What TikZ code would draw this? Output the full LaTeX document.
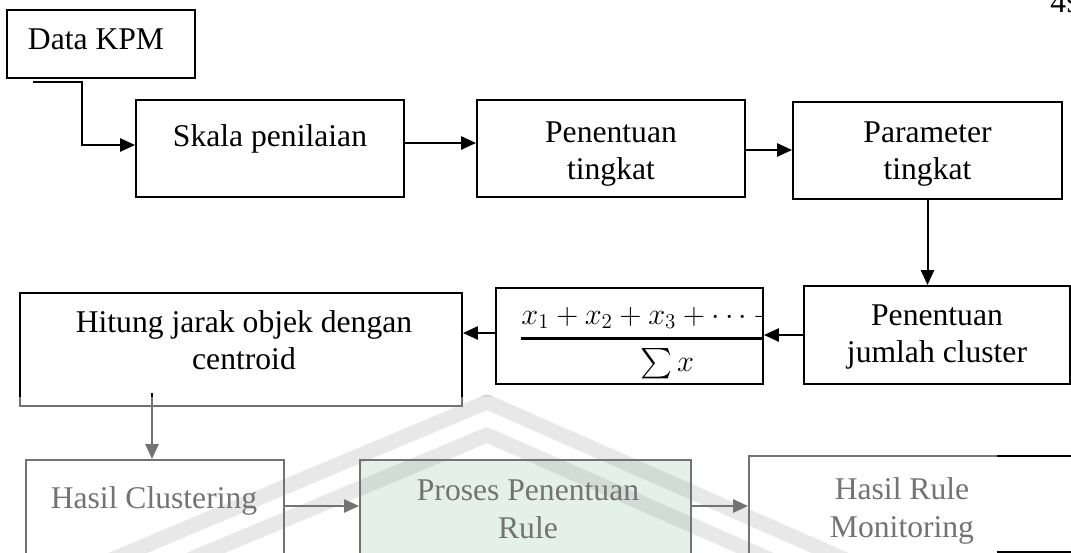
\documentclass[tikz,border=0pt]{standalone}
\usepackage{amsmath}
\usepackage{fontspec}
\setmainfont{Liberation Serif}
\usetikzlibrary{arrows.meta}
\definecolor{wmgreen}{RGB}{205,231,216}
\begin{document}
\begin{tikzpicture}[x=0.02cm,y=-0.02cm,
  box/.style={draw=black, line width=1.15pt, rectangle, inner sep=0pt},
  txt/.style={font=\fontsize{18}{21.5}\selectfont, align=center, inner sep=0pt, anchor=base},
  arr/.style={draw=black, line width=1.15pt, -{Triangle[length=8.5pt,width=7.5pt]}},
  band/.style={draw=black, draw opacity=0.16, line width=0.3cm, line join=round}
]
\useasboundingbox (0,0) rectangle (1071,553);
\fill[white] (0,0) rectangle (1071,553);

% boxes
\node[box, minimum width=3.76cm, minimum height=1.36cm] (data) at (101,44) {};
\node[box, minimum width=5.36cm, minimum height=1.94cm] (skala) at (270,148.5) {};
\node[box, minimum width=5.36cm, minimum height=1.94cm] (pent) at (611,148.5) {};
\node[box, minimum width=5.38cm, minimum height=1.94cm] (param) at (927.5,150.5) {};
\node[box, minimum width=5.32cm, minimum height=1.96cm] (jumlah) at (937,335) {};
\node[box, minimum width=5.34cm, minimum height=1.92cm] (frac) at (629.5,336) {};
\node[box, minimum width=8.84cm, minimum height=2.26cm] (hitung) at (241,349.5) {};
\node[box, minimum width=5.16cm, minimum height=2.8cm] (hc) at (155,530) {};
\node[box, fill=wmgreen, minimum width=6.62cm, minimum height=2.8cm] (proses) at (525.5,530) {};
\node[box, minimum width=6.82cm, minimum height=2.88cm] (hrm) at (919.5,528) {};

% texts (base = baseline of the last line)
\node[txt] (tdata) at (96,50) {Data KPM};
\node[txt] (tskala) at (270,147) {Skala penilaian};
\node[txt] (tpent) at (611,180) {Penentuan\\tingkat};
\node[txt] (tparam) at (927.5,180) {Parameter\\tingkat};
\node[txt] (tjum) at (937,363) {Penentuan\\jumlah cluster};
\node[txt] (thit) at (244,370) {Hitung jarak objek dengan\\centroid};
\node[txt] (thc) at (154,508) {Hasil Clustering};
\node[txt] (tpro) at (528,538) {Proses Penentuan\\Rule};
\node[txt] (thrm) at (902,537) {Hasil Rule\\Monitoring};
\node[txt, anchor=base west] (tpage) at (1050,13) {49};

% fraction (clipped by its box)
\begin{scope}
\clip (frac.south west) rectangle (frac.north east);
\node[inner sep=0pt, anchor=base, font=\fontsize{18}{21.5}\selectfont] (fr) at (667,346)
  {$\genfrac{}{}{1.6pt}{0}{x_1+x_2+x_3+\cdots+x_n}{\sum x}$};
\end{scope}

% connectors
\coordinate (dk) at (33,82);
\coordinate (dkb) at (82,82);
\draw[arr] (dk) -- (dkb) |- ([yshift=0.07cm]skala.west);
\draw[arr] ([yshift=0.11cm]skala.east) -- ([yshift=0.11cm]skala.east -| pent.west);
\draw[arr] ([yshift=-0.03cm]pent.east) -- ([yshift=-0.03cm]pent.east -| param.west);
\draw[arr] (param.south) -- (param.south |- jumlah.north);
\draw[arr] (jumlah.west) -- (jumlah.west -| frac.east);
\draw[arr] ([yshift=0.06cm]frac.west) -- ([yshift=0.06cm]frac.west -| hitung.east);
\coordinate (hs) at (152,393);
\draw[arr] (hs) -- (hs |- hc.north);
\draw[arr] ([yshift=0.48cm]hc.east) -- ([yshift=0.48cm]hc.east -| proses.west);
\draw[arr] ([yshift=0.48cm]proses.east) -- ([yshift=0.48cm]proses.east -| hrm.west);

% watermark bands
\draw[band] (111,560) -- (487,402) -- (846,560);
\draw[band] (189,560) -- (487,435) -- (771,560);
% faded lower part
\fill[white, opacity=0.45] (0,397) rectangle (1071,560);
% black segments at right
\draw[black, line width=1.15pt] (997,456) -- (1071,456);
\draw[black, line width=1.15pt] (997,552) -- (1071,552);
\end{tikzpicture}
\end{document}
